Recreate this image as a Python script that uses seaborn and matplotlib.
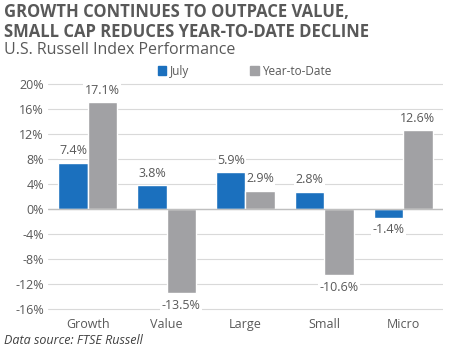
import pandas as pd
import numpy as np
import matplotlib.pyplot as plt
import seaborn as sns
from matplotlib.patches import Patch

# --- données ---
categories = ["Growth", "Value", "Large", "Small", "Micro"]
july = [7.4, 3.8, 5.9, 2.8, -1.4]
ytd = [17.1, -13.5, 2.9, -10.6, 12.6]
series = ["July", "Year-to-Date"]
colors = ["#1B70BE", "#A1A1A4"]
yticks = [20, 16, 12, 8, 4, 0, -4, -8, -12, -16]
title_lines = ["GROWTH CONTINUES TO OUTPACE VALUE,",
               "SMALL CAP REDUCES YEAR-TO-DATE DECLINE"]

df = pd.DataFrame({
    "category": categories * 2,
    "series": [series[0]] * 5 + [series[1]] * 5,
    "value": july + ytd,
})

sns.set_theme(style="white")
plt.rcParams["font.family"] = ["Open Sans", "DejaVu Sans"]
txt = "#595959"

fig = plt.figure(figsize=(4.5, 3.54), dpi=100)
ax = fig.add_axes([0.107, 0.1165, 0.877, 0.655])

sns.barplot(data=df, x="category", y="value", hue="series", palette=colors,
            width=0.74, ax=ax, saturation=1, legend=False, zorder=3)

ax.set_ylim(-16.6, 20.5)
ax.set_yticks(yticks)
ax.set_yticklabels([f"{t}%" for t in yticks])
ax.yaxis.grid(True, color="#D9D9D9", linewidth=0.8, zorder=0)
ax.axhline(0, color="#BFBFBF", linewidth=1, zorder=4)
for s in ax.spines.values():
    s.set_visible(False)
ax.set_xlabel("")
ax.set_ylabel("")
ax.tick_params(axis="both", length=0, labelsize=9, labelcolor=txt, pad=3)
ax.tick_params(axis="x", pad=4)

# étiquettes de valeurs
for cont in ax.containers:
    for bar in cont:
        v = bar.get_height()
        xc = bar.get_x() + bar.get_width() / 2
        off = 0.9 if v >= 0 else -0.9
        ax.text(xc, v + off, f"{v:.1f}%", ha="center",
                va="bottom" if v >= 0 else "top", fontsize=9, color=txt,
                bbox=dict(facecolor="white", edgecolor="none", pad=1), zorder=5)

# légende
handles = [Patch(color=c, label=s) for c, s in zip(colors, series)]
fig.legend(handles=handles, loc="center", bbox_to_anchor=(0.544, 0.799), ncol=2,
           frameon=False, fontsize=8.5, handlelength=0.7, handleheight=0.7,
           handletextpad=0.3, columnspacing=5.2, labelcolor=txt)

# titres
fig.text(0.008, 0.952, title_lines[0], ha="left", va="baseline",
         fontsize=12, fontweight="bold", color=txt)
fig.text(0.008, 0.8955, title_lines[1], ha="left", va="baseline",
         fontsize=12, fontweight="bold", color=txt)
fig.text(0.008, 0.847, "U.S. Russell Index Performance", ha="left", va="baseline",
         fontsize=11.5, color=txt)
fig.text(0.008, 0.028, "Data source: FTSE Russell", ha="left", va="baseline",
         fontsize=9, style="italic", color="#404040")

fig.savefig("out.png", dpi=100)
plt.close()
